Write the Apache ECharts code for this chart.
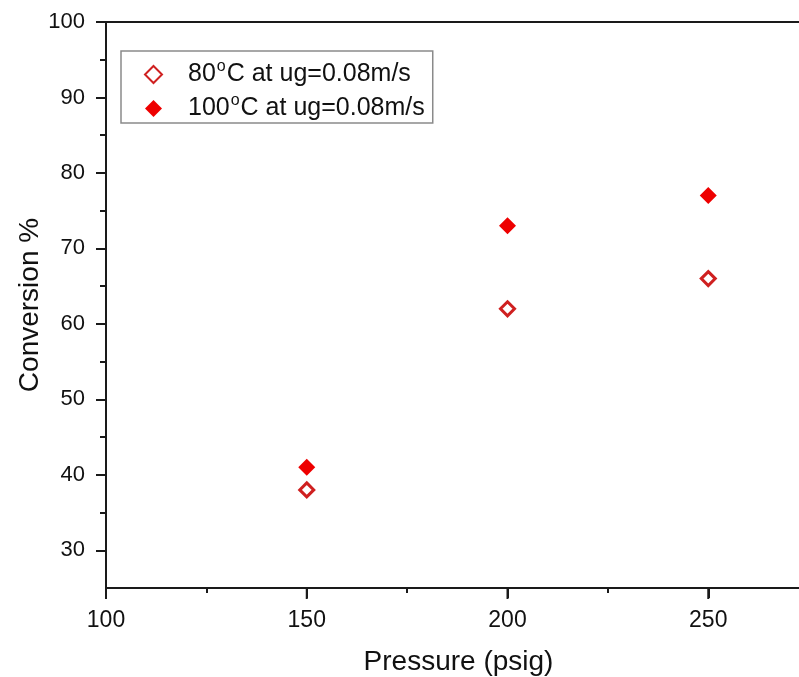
<!DOCTYPE html>
<html>
<head>
<meta charset="utf-8">
<script src="https://cdn.jsdelivr.net/npm/echarts@6/dist/echarts.min.js"></script>
<style>
html,body{margin:0;padding:0;background:#fff;}
#chart{width:799px;height:677px;}
</style>
</head>
<body>
<div id="chart"></div>
<script>
// ---- data ----
const pressure = [150, 200, 250];
const conv80 = [38, 62, 66];
const conv100 = [41, 73, 77];
const seriesNames = ['80{sup|o}{n|C at ug=0.08m/s}', '100{sup|o}{n|C at ug=0.08m/s}'];
const yTicks = [30, 40, 50, 60, 70, 80, 90, 100];
const yMinor = [35, 45, 55, 65, 75, 85, 95];
const xTicks = [100, 150, 200, 250];
const xMinor = [125, 175, 225];

const FONT = 'Liberation Sans, Arial, Helvetica, sans-serif';
const chart = echarts.init(document.getElementById('chart'));

const yMin = 25, yMax = 100, xMin = 100, xMax = 272.6;

function pairs(xs, ys) { return xs.map((x, i) => [x, ys[i]]); }

const axisLineStyle = { color: '#1a1a1a', width: 2 };

function tickAxis(pos, min, max, values, len) {
  return {
    type: 'value', min: min, max: max, position: pos,
    axisLine: { show: false },
    axisTick: { show: true, inside: false, length: len, customValues: values, lineStyle: axisLineStyle },
    axisLabel: { show: false }, splitLine: { show: false }
  };
}

chart.setOption({
  animation: false,
  backgroundColor: '#ffffff',
  grid: { left: 106, top: 22, right: 0, bottom: 89, containLabel: false, outerBoundsMode: 'none' },
  xAxis: [
    {
      type: 'value', min: xMin, max: xMax, position: 'bottom',
      name: 'Pressure (psig)', nameLocation: 'middle', nameGap: 60, nameMoveOverlap: false,
      nameTextStyle: { fontFamily: FONT, fontSize: 28, color: '#111', padding: [0, 0, 0, 12] },
      axisLine: { show: true, onZero: false, lineStyle: axisLineStyle },
      axisTick: { show: false },
      axisLabel: { show: true, customValues: xTicks, margin: 21, fontFamily: FONT, fontSize: 23, color: '#111' },
      splitLine: { show: false }
    },
    tickAxis('bottom', xMin, xMax, xTicks, 10),
    tickAxis('bottom', xMin, xMax, xMinor, 5),
    {
      type: 'value', min: xMin, max: xMax, position: 'top',
      axisLine: { show: true, onZero: false, lineStyle: axisLineStyle },
      axisTick: { show: false }, axisLabel: { show: false }, splitLine: { show: false }
    }
  ],
  yAxis: [
    {
      type: 'value', min: yMin, max: yMax, position: 'left',
      name: 'Conversion %', nameLocation: 'middle', nameGap: 62, nameRotate: 90, nameMoveOverlap: false,
      nameTextStyle: { fontFamily: FONT, fontSize: 28, color: '#111' },
      axisLine: { show: true, onZero: false, lineStyle: axisLineStyle },
      axisTick: { show: false },
      axisLabel: { show: true, customValues: yTicks, margin: 21, fontFamily: FONT, fontSize: 22, color: '#111' },
      splitLine: { show: false }
    },
    tickAxis('left', yMin, yMax, yTicks, 10),
    tickAxis('left', yMin, yMax, yMinor, 6)
  ],
  legend: {
    orient: 'vertical', left: 121, top: 51,
    padding: [8, 8, 1, 23],
    backgroundColor: '#fff', borderColor: '#8a8a8a', borderWidth: 1.5, borderRadius: 0,
    itemWidth: 17, itemHeight: 17, itemGap: 5,
    data: seriesNames,
    textStyle: {
      fontFamily: FONT, fontSize: 25, lineHeight: 27, color: '#111', padding: [0, 0, 0, 21],
      rich: {
        n: { fontFamily: FONT, fontSize: 25, lineHeight: 27, color: '#111' },
        sup: { fontFamily: FONT, fontSize: 16, lineHeight: 14, color: '#111', verticalAlign: 'bottom', padding: [0, 1, 13, 1] }
      }
    }
  },
  series: [
    {
      name: seriesNames[0], type: 'scatter', xAxisIndex: 0, yAxisIndex: 0,
      symbol: 'diamond', symbolSize: 14,
      itemStyle: { color: '#ffffff', borderColor: '#cf2020', borderWidth: 3, opacity: 1 },
      data: pairs(pressure, conv80), z: 3
    },
    {
      name: seriesNames[1], type: 'scatter', xAxisIndex: 0, yAxisIndex: 0,
      symbol: 'diamond', symbolSize: 17,
      itemStyle: { color: '#ee0000', opacity: 1 },
      data: pairs(pressure, conv100), z: 4
    },
    {
      // major x tick marks drawn below the bottom axis (positions through the axis scale)
      name: 'xMajorTicks', type: 'scatter', xAxisIndex: 0, yAxisIndex: 0,
      symbol: 'rect', symbolSize: [2, 11], symbolOffset: [0, 5.5], clip: false, silent: true,
      itemStyle: { color: '#1a1a1a', opacity: 1 },
      data: xTicks.map(function (v) { return [v, yMin]; }), z: 10
    }
  ]
});
</script>
</body>
</html>
